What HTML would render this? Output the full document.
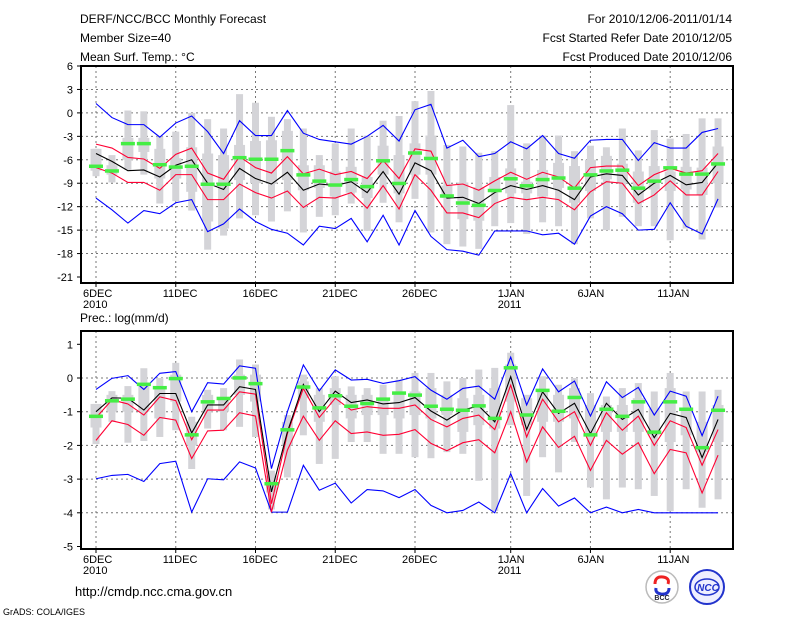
<!DOCTYPE html>
<html><head><meta charset="utf-8">
<style>
html,body{margin:0;padding:0;background:#fff;}
svg{display:block;font-family:"Liberation Sans",sans-serif;}
</style></head>
<body>
<svg id="chart" width="800" height="618" viewBox="0 0 800 618" xmlns="http://www.w3.org/2000/svg">
<g font-size="12" fill="#000">
<text x="80" y="23">DERF/NCC/BCC Monthly Forecast</text>
<text x="80" y="42">Member Size=40</text>
<text x="80" y="61">Mean Surf. Temp.: °C</text>
<text x="732" y="23" text-anchor="end">For 2010/12/06-2011/01/14</text>
<text x="732" y="42" text-anchor="end">Fcst Started Refer Date 2010/12/05</text>
<text x="732" y="61" text-anchor="end">Fcst Produced Date 2010/12/06</text>
<text x="80" y="322">Prec.: log(mm/d)</text>
<text x="75" y="596" font-size="13">http://cmdp.ncc.cma.gov.cn</text>
<text x="3" y="615" font-size="9">GrADS: COLA/IGES</text>
</g>
<g id="top"></g>
<g id="bot"></g>
<g>
<circle cx="662" cy="587" r="16" fill="#fff" stroke="#bbb" stroke-width="1.5"/>
<path d="M655 584 q0 -8 8 -7 q7 1 5 7" fill="none" stroke="#e22" stroke-width="3"/>
<path d="M669 588 q0 7 -8 6 q-6 -1 -5 -6" fill="none" stroke="#23c" stroke-width="3"/>
<text x="662" y="600" font-size="7" font-weight="bold" text-anchor="middle" fill="#223">BCC</text>
</g>
<g>
<circle cx="707" cy="587" r="17" fill="#eef" stroke="#23c" stroke-width="2"/>
<ellipse cx="707" cy="587" rx="12" ry="8" fill="none" stroke="#23c" stroke-width="1.5"/>
<text x="708" y="591" font-size="10" font-style="italic" font-weight="bold" text-anchor="middle" fill="#23c">NCC</text>
</g>
</svg>
<script>
// ---- data ----
const days = ["6DEC","","","","","11DEC","","","","","16DEC","","","","","21DEC","","","","","26DEC","","","","","","1JAN","","","","","6JAN","","","","","11JAN","","",""];
const tTicks = [6,3,0,-3,-6,-9,-12,-15,-18,-21];
const tMean = [-5.2,-6.2,-7.4,-7.3,-8.2,-6.7,-6.0,-9.0,-9.8,-7.1,-8.4,-9.1,-7.6,-9.9,-9.1,-9.3,-8.8,-10.2,-7.5,-10.4,-6.4,-7.4,-10.9,-10.8,-11.6,-10.2,-9.3,-9.8,-9.3,-9.9,-11.1,-8.2,-7.8,-8.0,-10.5,-9.0,-8.0,-9.2,-8.9,-6.4];
const tRedHi = [-4.0,-4.5,-5.7,-5.9,-7.1,-5.3,-4.5,-7.7,-8.5,-5.6,-7.0,-7.7,-5.6,-7.8,-7.2,-7.9,-7.5,-8.4,-6.1,-8.4,-4.6,-4.9,-9.3,-9.1,-9.9,-8.7,-7.6,-8.5,-7.6,-8.2,-9.6,-7.0,-6.8,-6.8,-9.3,-7.9,-7.1,-7.7,-7.4,-5.2];
const tRedLo = [-7.0,-7.7,-8.9,-8.9,-9.9,-7.9,-7.9,-11.1,-11.1,-9.1,-10.2,-10.9,-10.0,-12.1,-10.8,-10.9,-10.2,-12.2,-9.3,-12.3,-7.9,-9.9,-12.8,-12.8,-13.4,-11.6,-10.8,-11.1,-10.8,-11.1,-12.4,-10.1,-8.8,-9.0,-11.6,-10.5,-8.7,-10.5,-10.5,-7.5];
const tBlueHi = [1.2,-0.6,-1.5,-1.5,-3.1,-1.3,-0.4,-2.4,-5.2,-1.0,-2.9,-2.9,0.3,-2.6,-3.4,-3.7,-4.0,-3.0,-1.6,-3.6,0.4,1.1,-4.5,-3.5,-5.6,-5.2,-3.7,-4.6,-2.9,-5.2,-5.8,-3.5,-3.4,-3.4,-6.1,-3.8,-4.5,-4.5,-2.5,-2.0];
const tBlueLo = [-10.9,-12.4,-14.1,-12.5,-12.9,-11.5,-11.1,-15.2,-14.2,-12.3,-13.9,-14.9,-15.4,-16.9,-14.5,-14.8,-13.5,-16.5,-13.1,-16.9,-12.5,-15.8,-17.5,-17.7,-18.2,-15.1,-15.1,-15.1,-15.6,-15.4,-16.8,-13.2,-12.0,-12.9,-15.0,-14.9,-11.5,-14.5,-15.5,-11.0];
const tObs = [-6.8,-7.4,-3.9,-3.9,-6.6,-6.9,-6.8,-9.1,-9.1,-5.7,-5.9,-5.9,-4.8,-7.9,-8.7,-9.2,-8.5,-9.4,-6.1,-9.0,-5.1,-5.8,-10.6,-11.5,-11.8,-9.9,-8.4,-9.3,-8.5,-8.3,-9.6,-7.9,-7.4,-7.3,-9.6,-8.7,-7.0,-7.8,-7.8,-6.5];
const tWhHi = [-4.6,-5.4,0.3,0.2,-3.0,-2.4,0.0,-0.8,-2.0,2.4,1.3,-0.5,-0.8,-2.0,-5.4,-3.9,-2.0,-2.9,-1.0,-0.4,1.5,2.8,-4.1,-4.3,-5.1,-4.9,1.0,-3.9,-2.9,-2.9,-4.9,-4.2,-4.4,-2.0,-4.8,-2.2,-3.3,-2.7,-0.7,-0.7];
const tQ3 = [-4.6,-6.7,-3.2,-3.2,-4.6,-5.8,-4.4,-5.2,-5.4,-4.1,-3.6,-3.5,-2.3,-6.7,-6.7,-7.5,-6.9,-8.2,-4.2,-5.4,-3.9,-2.9,-9.3,-8.9,-9.5,-8.2,-7.1,-8.8,-7.3,-6.4,-6.8,-6.0,-5.5,-6.5,-7.5,-6.8,-7.5,-6.9,-7.0,-4.3];
const tQ1 = [-7.4,-7.9,-6.0,-5.0,-8.4,-8.4,-10.1,-13.9,-14.8,-8.6,-9.0,-9.1,-8.6,-9.9,-9.6,-10.7,-10.2,-10.9,-7.9,-10.3,-7.9,-7.9,-10.9,-13.6,-13.8,-10.1,-10.3,-10.3,-10.7,-9.6,-11.5,-10.0,-8.5,-9.0,-11.5,-9.8,-10.0,-9.8,-10.5,-9.0];
const tWhLo = [-8.1,-8.9,-7.3,-7.9,-11.6,-11.3,-12.5,-17.5,-15.7,-13.5,-13.1,-13.9,-12.6,-15.3,-13.3,-13.1,-11.6,-15.1,-11.5,-14.0,-11.0,-15.3,-16.8,-17.1,-17.4,-14.5,-14.1,-15.5,-14.0,-14.5,-16.8,-13.5,-15.0,-13.3,-14.5,-14.5,-16.3,-14.8,-16.2,-12.1];

const pTicks = [1,0,-1,-2,-3,-4,-5];
const pMean = [-1.0,-0.59,-0.6,-0.95,-0.46,-0.46,-1.63,-0.8,-0.8,-0.26,-0.34,-3.38,-1.6,-0.19,-1.0,-0.39,-0.73,-0.65,-0.77,-0.73,-0.58,-0.98,-1.25,-0.95,-0.83,-1.3,0.04,-1.53,-0.41,-1.05,-0.75,-1.65,-0.75,-1.23,-0.93,-1.77,-1.05,-1.17,-2.36,-1.23];
const pRedHi = [-1.18,-0.65,-0.77,-1.1,-0.56,-0.67,-1.83,-0.95,-0.95,-0.41,-0.48,-3.73,-1.65,-0.31,-1.17,-0.6,-0.95,-0.85,-0.9,-0.9,-0.8,-1.23,-1.45,-1.2,-1.1,-1.53,-0.21,-1.75,-0.63,-1.3,-1.0,-2.0,-1.03,-1.55,-1.13,-2.0,-1.27,-1.47,-2.59,-1.53];
const pRedLo = [-1.85,-1.27,-1.38,-1.7,-1.17,-1.25,-2.39,-1.57,-1.55,-1.03,-1.13,-3.98,-2.14,-1.13,-1.85,-1.27,-1.65,-1.6,-1.7,-1.67,-1.53,-1.94,-2.16,-1.92,-1.83,-2.22,-1.0,-2.49,-1.45,-2.06,-1.73,-2.74,-1.85,-2.26,-1.92,-2.84,-2.12,-2.22,-3.41,-2.29];
const pBlueHi = [-0.34,-0.01,0.07,-0.34,0.14,0.19,-1.0,-0.14,-0.18,0.36,0.29,-2.69,-1.0,0.39,-0.38,0.24,-0.06,-0.04,-0.16,-0.08,0.04,-0.36,-0.63,-0.31,-0.24,-0.63,0.62,-0.8,0.27,-0.41,-0.09,-1.13,-0.11,-0.58,-0.28,-1.1,-0.39,-0.54,-1.71,-0.54];
const pBlueLo = [-2.99,-2.89,-2.86,-3.07,-2.54,-2.47,-3.98,-2.99,-3.02,-2.49,-2.67,-3.98,-3.98,-2.59,-3.33,-3.12,-3.71,-3.31,-3.35,-3.55,-3.31,-3.78,-4.0,-3.93,-3.68,-4.0,-2.84,-4.0,-3.28,-3.8,-3.56,-4.0,-3.83,-4.0,-3.9,-4.0,-4.0,-4.0,-4.0,-4.0];
const pObs = [-1.13,-0.67,-0.62,-0.18,-0.28,-0.01,-1.68,-0.7,-0.6,0.01,-0.16,-3.13,-1.53,-0.26,-0.88,-0.52,-0.83,-0.75,-0.62,-0.44,-0.5,-0.83,-0.92,-0.95,-0.82,-1.19,0.31,-1.09,-0.36,-0.98,-0.57,-1.68,-0.92,-1.13,-0.7,-1.6,-0.7,-0.92,-2.06,-0.95];
const pWhHi = [-0.77,-0.39,-0.24,0.29,0.0,0.45,-1.15,-0.35,-0.3,0.55,0.4,-2.75,-1.1,0.1,-0.3,0.05,-0.25,-0.3,-0.2,-0.05,0.15,0.15,-0.1,0.0,0.25,0.3,0.75,-0.5,0.05,-0.2,0.0,-0.45,-0.55,-0.3,-0.15,-0.4,0.15,-0.4,-0.4,-0.35];
const pQ3 = [-0.77,-0.5,-0.5,-0.2,-0.3,0.1,-1.3,-0.5,-0.6,0.1,0.1,-2.9,-1.3,-0.1,-0.5,-0.3,-0.5,-0.5,-0.6,-0.4,-0.4,-0.3,-0.5,-0.6,-0.5,-0.3,0.4,-0.6,-0.4,-0.5,-0.3,-0.8,-0.8,-0.8,-0.6,-0.9,-0.3,-0.9,-1.3,-0.8];
const pQ1 = [-1.47,-1.0,-1.0,-1.0,-1.2,-0.7,-2.0,-1.0,-1.0,-0.5,-0.7,-3.4,-2.0,-0.6,-1.3,-0.8,-1.2,-1.1,-1.1,-1.2,-1.1,-1.2,-1.1,-1.6,-1.4,-1.5,-0.7,-1.4,-1.3,-1.3,-1.2,-1.7,-1.6,-1.6,-1.6,-1.7,-1.9,-1.7,-2.2,-1.9];
const pWhLo = [-1.96,-1.3,-1.92,-1.87,-1.75,-1.55,-2.7,-1.5,-1.55,-1.45,-1.75,-3.9,-2.95,-1.7,-2.55,-2.4,-1.9,-1.9,-2.25,-2.25,-2.35,-2.38,-2.2,-2.25,-3.05,-3.95,-1.4,-3.5,-2.35,-2.8,-1.9,-3.25,-3.6,-3.25,-3.3,-3.5,-3.95,-3.3,-3.85,-3.6];

// ---- drawing ----
const NS = "http://www.w3.org/2000/svg";
function mk(parent, tag, attrs){const e=document.createElementNS(NS,tag);for(const k in attrs)e.setAttribute(k,attrs[k]);parent.appendChild(e);return e;}
const xOf = d => 96 + d*15.95;

function panel(g, cfg){
  const y = v => cfg.y0 + (cfg.vTop - v)*cfg.k;
  const L=81,R=733;
  // grid
  cfg.ticks.forEach(t=>{
    if(t!==cfg.ticks[0]&&t!==cfg.ticks[cfg.ticks.length-1]){
      const gl=mk(g,"line",{x1:L,x2:R,y1:y(t),y2:y(t),stroke:"#777","stroke-dasharray":"2,3","stroke-width":1});
      
      
    }
    const tk=mk(g,"line",{x1:L-4,x2:L,y1:y(t),y2:y(t),stroke:"#000"});
    
    
    const tx=mk(g,"text",{x:L-8,y:y(t)+4,"text-anchor":"end","font-size":"11"});
    tx.textContent=String(t);
    
    
  });
  days.forEach((lab,d)=>{
    if(!lab)return;
    const gl=mk(g,"line",{x1:xOf(d),x2:xOf(d),y1:cfg.top,y2:cfg.bot,stroke:"#777","stroke-dasharray":"2,3"});
    
    
    const tk=mk(g,"line",{x1:xOf(d),x2:xOf(d),y1:cfg.bot,y2:cfg.bot+4,stroke:"#000"});
    
    
    const tx=mk(g,"text",{x:xOf(d)-13,y:cfg.bot+14,"font-size":"11"});
    tx.textContent=lab;
    
    
    if(d===0||lab==="1JAN"){
      const yr=mk(g,"text",{x:xOf(d)-13,y:cfg.bot+25,"font-size":"11"});
      yr.textContent=d===0?"2010":"2011";
      
      
    }
  });
  // boxes
  cfg.whHi.forEach((h,d)=>{
    const w=mk(g,"rect",{x:xOf(d)-3.5,y:y(h),width:7,height:y(cfg.whLo[d])-y(h),fill:"#d4d4d8"});
    
    
    const b=mk(g,"rect",{x:xOf(d)-5.5,y:y(cfg.q3[d]),width:11,height:y(cfg.q1[d])-y(cfg.q3[d]),fill:"#d4d4d8"});
    
    
  });
  // lines
  const line=(arr,col,name)=>{
    const p=mk(g,"polyline",{points:arr.map((v,d)=>xOf(d)+","+y(v)).join(" "),fill:"none",stroke:col,"stroke-width":1.1});
    
    
  };
  line(cfg.blueHi,"#0000ff","max-line");
  line(cfg.blueLo,"#0000ff","min-line");
  line(cfg.redHi,"#ff0033","upper-std-line");
  line(cfg.redLo,"#ff0033","lower-std-line");
  line(cfg.mean,"#000","ensemble-mean-line");
  cfg.obs.forEach((v,d)=>{
    const r=mk(g,"rect",{x:xOf(d)-7,y:y(v)-1.5,width:14,height:3.5,fill:"#44ee44"});
    
    
  });
  const fr=mk(g,"rect",{x:L,y:cfg.top,width:R-L,height:cfg.bot-cfg.top,fill:"none",stroke:"#000","stroke-width":2});
  
  
}
panel(document.getElementById("top"),{y0:66,vTop:6,k:7.815,top:66,bot:283,ticks:tTicks,mean:tMean,redHi:tRedHi,redLo:tRedLo,blueHi:tBlueHi,blueLo:tBlueLo,obs:tObs,whHi:tWhHi,q3:tQ3,q1:tQ1,whLo:tWhLo});
panel(document.getElementById("bot"),{y0:344.3,vTop:1,k:33.7,top:331,bot:549,ticks:pTicks,mean:pMean,redHi:pRedHi,redLo:pRedLo,blueHi:pBlueHi,blueLo:pBlueLo,obs:pObs,whHi:pWhHi,q3:pQ3,q1:pQ1,whLo:pWhLo});
</script>
</body></html>
